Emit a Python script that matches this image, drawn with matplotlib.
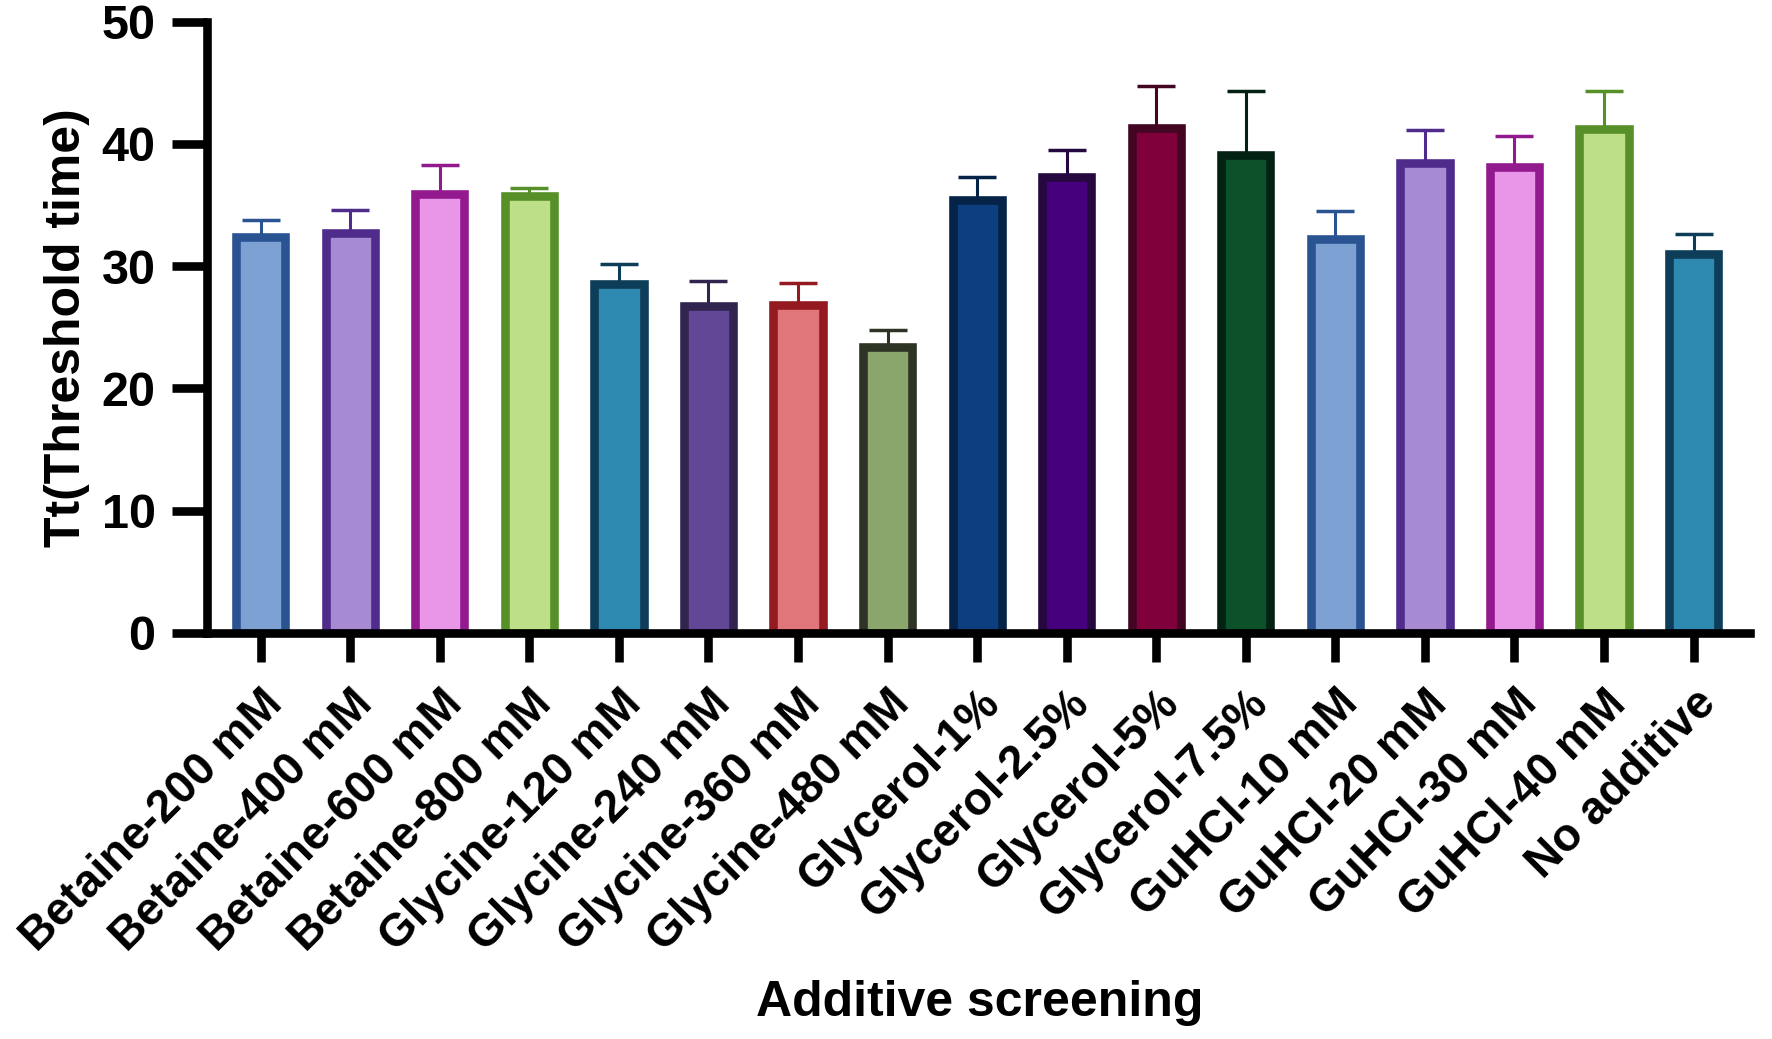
import matplotlib
matplotlib.use("Agg")
import matplotlib.pyplot as plt
import numpy as np

plt.rcParams['font.family'] = ['Liberation Sans', 'DejaVu Sans']
plt.rcParams['font.weight'] = 'bold'

categories = ["Betaine-200 mM", "Betaine-400 mM", "Betaine-600 mM", "Betaine-800 mM",
              "Glycine-120 mM", "Glycine-240 mM", "Glycine-360 mM", "Glycine-480 mM",
              "Glycerol-1%", "Glycerol-2.5%", "Glycerol-5%", "Glycerol-7.5%",
              "GuHCl-10 mM", "GuHCl-20 mM", "GuHCl-30 mM", "GuHCl-40 mM", "No additive"]
means = [32.4, 32.7, 35.9, 35.7, 28.5, 26.7, 26.8, 23.4, 35.4, 37.25, 41.3, 39.1,
         32.2, 38.4, 38.1, 41.2, 31.0]
sds = [1.4, 1.9, 2.4, 0.7, 1.7, 2.1, 1.8, 1.4, 1.9, 2.25, 3.4, 5.25,
       2.3, 2.7, 2.5, 3.15, 1.6]
face_colors = ["#7EA1D4", "#A68BD3", "#E996E9", "#BCDF88", "#2E89B0", "#624796",
               "#E0757A", "#8BA66C", "#0C3E80", "#46007D", "#80003C", "#0B522A",
               "#7EA1D4", "#A68BD3", "#E996E9", "#BCDF88", "#2E89B0"]
edge_colors = ["#2A5392", "#4F2B8C", "#921A8E", "#579028", "#0D3D58", "#31254F",
               "#931A20", "#2D3325", "#052247", "#250840", "#420522", "#032213",
               "#2A5392", "#4F2B8C", "#921A8E", "#579028", "#0D3D58"]
y_ticks = [0, 10, 20, 30, 40, 50]

fig = plt.figure(figsize=(17.72, 10.39), dpi=100)
ax = fig.add_axes([0.1168, 0.3908, 0.8708, 0.5885])

x = np.arange(len(categories))
for i in range(len(categories)):
    ax.errorbar(x[i], means[i], yerr=[[0], [sds[i]]], fmt='none',
                ecolor=edge_colors[i], elinewidth=2.2, capsize=14, capthick=2.5,
                zorder=1)
ax.bar(x, means, width=0.55, color=face_colors, edgecolor=edge_colors,
       linewidth=6.2, zorder=2)

ax.set_ylim(0, 50)
ax.set_xlim(-0.6, 16.63)
ax.set_yticks(y_ticks)
ax.set_xticks(x)
ax.set_xticklabels(categories, rotation=45, ha='right', va='top',
                   rotation_mode='anchor', fontsize=33, fontweight='bold')
for lab in ax.get_yticklabels():
    lab.set_fontsize(35)
    lab.set_fontweight('bold')

for s in ['top', 'right']:
    ax.spines[s].set_visible(False)
for s in ['left', 'bottom']:
    ax.spines[s].set_linewidth(6.2)
    ax.spines[s].set_capstyle('projecting')
ax.tick_params(axis='both', width=6.2)
ax.tick_params(axis='y', length=25, pad=12)
ax.tick_params(axis='x', length=21, pad=14)

ax.set_ylabel("Tt(Threshold time)", fontsize=36, fontweight='bold', labelpad=8)
fig.text(0.553, 0.035, "Additive screening", fontsize=36, fontweight='bold',
         ha='center', va='center')

fig.savefig("out.png", dpi=100)
